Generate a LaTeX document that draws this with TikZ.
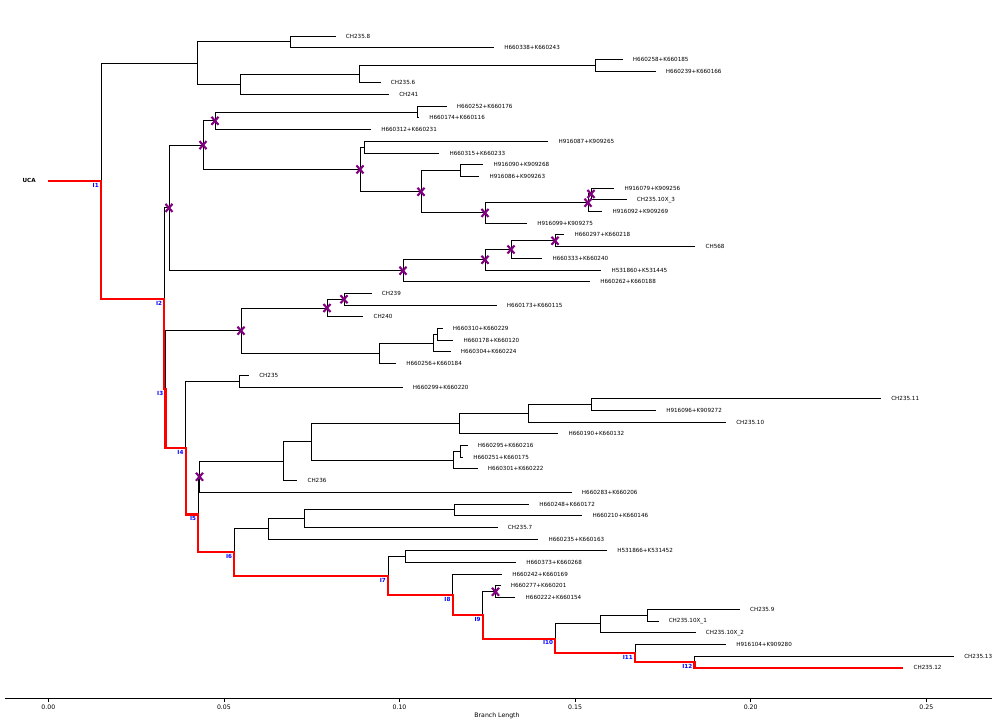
\documentclass[tikz,border=0pt]{standalone}
\usepackage{fontspec}
\setmainfont{DejaVu Sans}
\definecolor{mpurple}{HTML}{800080}
\tikzset{
  br/.style={line width=0.7pt},
  hl/.style={red, line width=1.5pt},
  tip/.style={anchor=west, inner xsep=0.25cm, inner ysep=0pt, font=\fontsize{4}{5}\selectfont},
  ilab/.style={text=blue, inner sep=1.4pt, font=\fontsize{4}{5}\selectfont\bfseries},
  ticklab/.style={inner sep=0pt, font=\fontsize{4.4}{5}\selectfont},
  mutx/.pic={\draw[mpurple, line width=1.5pt] (-3.5,-4) -- (3.5,4) (-3.5,4) -- (3.5,-4);}
}
\begin{document}
\begin{tikzpicture}[x=0.025cm, y=-0.025cm]
\useasboundingbox (0,0) rectangle (997,724);
\foreach \xe/\txt [count=\i] in {335.7/CH235.8, 494/H660338+K660243, 622.7/H660258+K660185,
  655.7/H660239+K660166, 380.7/CH235.6, 389/CH241, 446.7/H660252+K660176, 419/H660174+K660116,
  371/H660312+K660231, 548.3/H916087+K909265, 439.3/H660315+K660233, 483.3/H916090+K909268,
  479.3/H916086+K909263, 614.3/H916079+K909256, 626.7/CH235.10X\_3, 602.3/H916092+K909269,
  527/H916099+K909275, 564.3/H660297+K660218, 695.3/CH568, 542.3/H660333+K660240,
  601.3/H531860+K531445, 590/H660262+K660188, 371.7/CH239, 496.7/H660173+K660115,
  363.3/CH240, 442.7/H660310+K660229, 453.3/H660178+K660120, 450.7/H660304+K660224,
  396/H660256+K660184, 249/CH235, 402.7/H660299+K660220, 881/CH235.11,
  656/H916096+K909272, 726/CH235.10, 558.3/H660190+K660132, 467.7/H660295+K660216,
  463/H660251+K660175, 477.7/H660301+K660222, 297.3/CH236, 571.7/H660283+K660206,
  529/H660248+K660172, 582.3/H660210+K660146, 497.7/CH235.7, 538.3/H660235+K660163,
  607/H531866+K531452, 516/H660373+K660268, 502/H660242+K660169, 500.5/H660277+K660201,
  515.4/H660222+K660154, 739.8/CH235.9, 658.5/CH235.10X\_1, 695.6/CH235.10X\_2,
  726/H916104+K909280, 954/CH235.13, 903.4/CH235.12}
  \node[tip] (t\i) at (\xe,{36+11.7*(\i-1)}) {\txt};

\node[anchor=east, inner sep=0pt, font=\fontsize{4}{5}\selectfont\bfseries] (uca) at (36,180.8) {UCA};
\coordinate (root) at (48.3,180.8);
\coordinate[label={[ilab]below left:I1}] (i1) at (101,180.8);
\coordinate[label={[ilab]below left:I2}] (i2) at (164.3,298.6);
\coordinate[label={[ilab]below left:I3}] (i3) at (165.5,389.25);
\coordinate[label={[ilab]below left:I4}] (i4) at (185.7,447.8);
\coordinate[label={[ilab]below left:I5}] (i5) at (198.3,514.5);
\coordinate[label={[ilab]below left:I6}] (i6) at (234.3,552.3);
\coordinate[label={[ilab]below left:I7}] (i7) at (388,575.7);
\coordinate[label={[ilab]below left:I8}] (i8) at (452.7,594.7);
\coordinate[label={[ilab]below left:I9}] (i9) at (482.8,615.15);
\coordinate[label={[ilab]below left:I10}] (i10) at (555.3,638.55);
\coordinate[label={[ilab]below left:I11}] (i11) at (635,653.2);
\coordinate[label={[ilab]below left:I12}] (i12) at (694.5,661.95);

\coordinate (cA) at (197,63.05);
\coordinate (cB) at (290,41.85);
\coordinate (cC) at (240,84.25);
\coordinate (cD) at (359,74.0);
\coordinate (cE) at (595,65.25);
\coordinate (cF) at (169,207.9);
\coordinate (cH) at (203,145.1);
\coordinate (cJ) at (215,120.8);
\coordinate (cK) at (417,112.05);
\coordinate (cL) at (360,169.45);
\coordinate (cM) at (364,147.15);
\coordinate (cN) at (421,191.75);
\coordinate (cO) at (460,170.55);
\coordinate (cP) at (485,212.95);
\coordinate (cQ) at (588,202.7);
\coordinate (cR) at (591,193.95);
\coordinate (cS) at (403,270.7);
\coordinate (cT) at (485,259.75);
\coordinate (cU) at (511,249.5);
\coordinate (cV) at (555,240.75);
\coordinate (cG) at (241,330.7);
\coordinate (cW) at (327,308.0);
\coordinate (cX) at (344,299.25);
\coordinate (cY) at (379,353.35);
\coordinate (cZ) at (433,343.1);
\coordinate (cAA) at (437,334.35);
\coordinate (cAB) at (239,381.15);
\coordinate (cAC) at (199.5,476.75);
\coordinate (cAD) at (283,461.2);
\coordinate (cAE) at (311,441.8);
\coordinate (cAF) at (459,423.55);
\coordinate (cAG) at (528,413.3);
\coordinate (cAH) at (591,404.55);
\coordinate (cAI) at (453,460.1);
\coordinate (cAJ) at (460,451.35);
\coordinate (cAK) at (268,528.85);
\coordinate (cAL) at (304,518.6);
\coordinate (cAM) at (454,509.85);
\coordinate (cAN) at (405,556.65);
\coordinate (cAP) at (495.5,591.75);
\coordinate (cAQ) at (600,623.9);
\coordinate (cAR) at (647,615.15);

\foreach \p/\c in {i1/cA, cA/cB, cA/cC, cB/t1, cB/t2, cC/cD, cC/t6, cD/cE, cD/t5, cE/t3, cE/t4,
  i2/cF, cF/cH, cF/cS, cH/cJ, cH/cL, cJ/cK, cJ/t9, cK/t7, cK/t8, cL/cM, cL/cN, cM/t10, cM/t11,
  cN/cO, cN/cP, cO/t12, cO/t13, cP/cQ, cP/t17, cQ/cR, cQ/t16, cR/t14, cR/t15,
  cS/cT, cS/t22, cT/cU, cT/t21, cU/cV, cU/t20, cV/t18, cV/t19,
  i3/cG, cG/cW, cG/cY, cW/cX, cW/t25, cX/t23, cX/t24, cY/cZ, cY/t29, cZ/cAA, cZ/t28, cAA/t26, cAA/t27,
  i4/cAB, cAB/t30, cAB/t31,
  i5/cAC, cAC/cAD, cAC/t40, cAD/cAE, cAD/t39, cAE/cAF, cAE/cAI, cAF/cAG, cAF/t35, cAG/cAH, cAG/t34,
  cAH/t32, cAH/t33, cAI/cAJ, cAI/t38, cAJ/t36, cAJ/t37,
  i6/cAK, cAK/cAL, cAK/t44, cAL/cAM, cAL/t43, cAM/t41, cAM/t42,
  i7/cAN, cAN/t45, cAN/t46, i8/t47, i9/cAP, cAP/t48, cAP/t49,
  i10/cAQ, cAQ/cAR, cAQ/t52, cAR/t50, cAR/t51, i11/t53, i12/t54}
  \draw[br] (\p) |- (\c);

\draw[hl] (root) -- (i1) |- (i2) |- (i3) |- (i4) |- (i5) |- (i6) |- (i7) |- (i8) |- (i9)
  |- (i10) |- (i11) |- (i12) |- (t55);

\foreach \c in {cF,cH,cJ,cL,cN,cP,cQ,cR,cS,cT,cU,cV,cG,cW,cX,cAC,cAP}
  \pic at (\c) {mutx};

\draw[line width=0.6pt] (5,698) -- (992,698);
\foreach \v [count=\k from 0] in {0.00,0.05,0.10,0.15,0.20,0.25}{
  \draw[line width=0.5pt] ({48.3+175.6*\k},698) -- ++(0,3.5);
  \node[ticklab] (tk\k) at ({48.3+175.6*\k},707) {\v};
}
\node[ticklab] (xlab) at (497,716) {Branch Length};
\end{tikzpicture}
\end{document}
